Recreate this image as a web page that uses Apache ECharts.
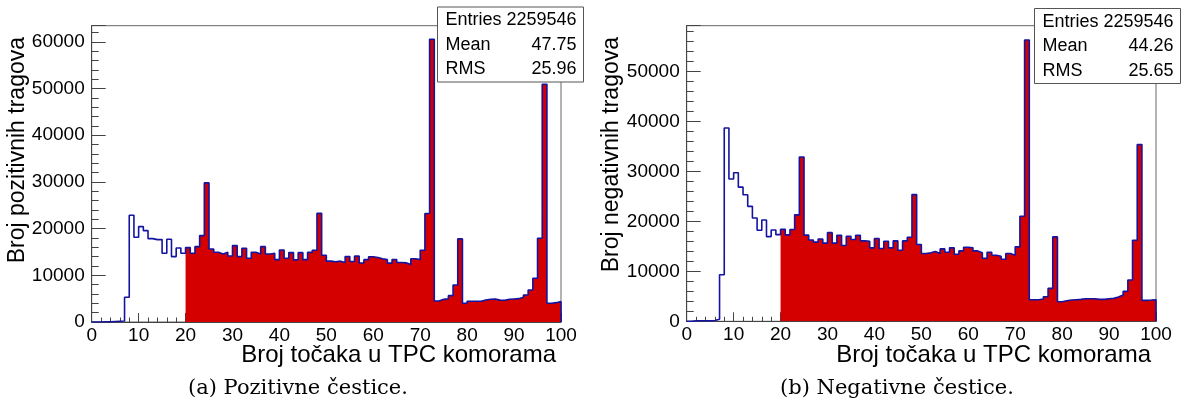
<!DOCTYPE html>
<html>
<head>
<meta charset="utf-8">
<script src="https://cdn.jsdelivr.net/npm/echarts@6/dist/echarts.min.js"></script>
<style>
html, body { margin: 0; padding: 0; background: #fff; }
#chart { width: 1184px; height: 407px; }
</style>
</head>
<body>
<div id="chart"></div>
<script>
// broj tragova po binu (bin i = [i, i+1)), 100 binova
var posCounts = [
	0, 0, 50, 50, 100, 150, 200, 5290, 22860, 18140,
	20430, 19570, 17860, 17640, 17640, 14710, 17710, 14000, 15860, 14710,
	15930, 14710, 16140, 18500, 29790, 15640, 14930, 14570, 14930, 14140,
	16360, 14000, 15790, 13640, 14930, 14570, 16140, 14570, 14710, 13360,
	15430, 13640, 14860, 13300, 14850, 13350, 14900, 15350, 23270, 14280,
	13030, 12900, 13030, 12740, 14000, 12960, 14100, 12640, 13350, 13960,
	13800, 13530, 13350, 12600, 13390, 12750, 12670, 12310, 13560, 13350,
	15350, 23240, 60550, 4500, 4850, 4960, 5640, 7930, 17790, 4000,
	4430, 4430, 4430, 4710, 4860, 4930, 4680, 4640, 4860, 4930,
	5000, 5290, 5790, 6860, 9360, 17930, 50900, 4000, 4140, 4360
];
var negCounts = [
	0, 100, 100, 100, 100, 150, 400, 9300, 38690, 28480,
	29720, 26850, 25330, 23000, 20670, 18230, 20270, 16950, 18270, 17340,
	18400, 17300, 18370, 21300, 32870, 17240, 16270, 15840, 16470, 15640,
	17740, 15640, 17200, 15160, 17030, 16370, 17230, 16090, 16030, 14700,
	16560, 14570, 16030, 14700, 16090, 14230, 16090, 16830, 25350, 15370,
	13570, 13700, 13970, 13570, 14490, 13830, 14700, 13430, 14090, 14830,
	14700, 14090, 13700, 12630, 13830, 13230, 13030, 12430, 13570, 13230,
	14900, 21020, 56290, 4320, 4320, 4450, 4920, 6580, 16890, 3920,
	4120, 4250, 4320, 4390, 4520, 4520, 4520, 4390, 4390, 4520,
	4590, 4860, 5250, 5990, 8250, 16230, 35390, 4190, 4250, 4320
];
var fillFrom = 20; // crveno ispunjeno od 20 tocaka nadalje
var posYMax = 63450;
var negYMax = 59150;

var statNames = ['Entries', 'Mean', 'RMS'];
var posStats = ['2259546', '47.75', '25.96'];
var negStats = ['2259546', '44.26', '25.65'];

var xTitle = 'Broj točaka u TPC komorama';
var posYTitle = 'Broj pozitivnih tragova';
var negYTitle = 'Broj negativnih tragova';
var posCaption = '(a) Pozitivne čestice.';
var negCaption = '(b) Negativne čestice.';

var RED = '#d40000';
var BLUE = '#1414a0';
var AXIS = '#444';
var SANS = '"Liberation Sans", Arial, sans-serif';

function stepData(counts, from, closeToZero) { // tocke za step:'end' liniju
	var d = [];
	for (var i = from; i < counts.length; i++) {
		d.push([i, counts[i]]);
	}
	d.push([counts.length, counts[counts.length - 1]]);
	if (closeToZero) {
		d.push([counts.length, 0]);
	}
	return d;
}

function makeXAxis(gridIndex) {
	return {
		type: 'value',
		gridIndex: gridIndex,
		position: 'bottom',
		min: 0,
		max: 100,
		interval: 10,
		axisLine: { lineStyle: { color: AXIS, width: 1 } },
		axisTick: { inside: true, length: 9, lineStyle: { color: AXIS } },
		minorTick: { show: true, splitNumber: 5, length: 4.5, lineStyle: { color: AXIS } },
		axisLabel: { color: '#000', fontSize: 19, fontFamily: SANS, margin: 4 },
		splitLine: { show: false },
		minorSplitLine: { show: false }
	};
}

function makeYAxes(gridIndex, yMax) {
	return [{
		type: 'value',
		gridIndex: gridIndex,
		position: 'left',
		min: 0,
		max: yMax,
		interval: 10000,
		axisLine: { show: true, lineStyle: { color: AXIS, width: 1 } },
		axisTick: { show: true, inside: true, length: 14, lineStyle: { color: AXIS } },
		axisLabel: {
			color: '#000', fontSize: 19, fontFamily: SANS, margin: 7,
			formatter: function(v) {
				return v % 10000 === 0 ? String(v) : '';
			}
		},
		splitLine: { show: false }
	}, {
		// samo sitne crtice svakih 2000
		type: 'value',
		gridIndex: gridIndex,
		position: 'left',
		offset: 0,
		min: 0,
		max: yMax,
		interval: 2000,
		axisLine: { show: false },
		axisTick: { show: true, inside: true, length: 7, lineStyle: { color: AXIS } },
		axisLabel: { show: false },
		splitLine: { show: false }
	}];
}

function makeSeries(counts, xIdx, yIdx) {
	return [{
		type: 'line',
		xAxisIndex: xIdx,
		yAxisIndex: yIdx,
		step: 'end',
		data: stepData(counts, fillFrom, false),
		symbol: 'none',
		silent: true,
		lineStyle: { width: 0, color: RED },
		areaStyle: { color: RED, opacity: 1 },
		z: 2
	}, {
		type: 'line',
		xAxisIndex: xIdx,
		yAxisIndex: yIdx,
		step: 'end',
		data: stepData(counts, 0, true),
		symbol: 'none',
		silent: true,
		lineStyle: { width: 1.6, color: BLUE },
		z: 3
	}];
}

function statsBox(left, top, values) {
	var children = [{
		type: 'rect',
		shape: { x: 0, y: 0, width: 146, height: 75 },
		style: { fill: '#fff', stroke: '#555', lineWidth: 1 }
	}];
	for (var i = 0; i < statNames.length; i++) {
		children.push({
			type: 'text',
			x: 8, y: 13.5 + i * 24.5,
			style: { text: statNames[i], font: '18px ' + SANS, fill: '#000', align: 'left', verticalAlign: 'middle' }
		});
		children.push({
			type: 'text',
			x: 139, y: 13.5 + i * 24.5,
			style: { text: values[i], font: '18px ' + SANS, fill: '#000', align: 'right', verticalAlign: 'middle' }
		});
	}
	return { type: 'group', x: left, y: top, z: 100, children: children };
}

var myChart = echarts.init(document.getElementById('chart'), null, { renderer: 'canvas' });

var yAxesPos = makeYAxes(0, posYMax);
var yAxesNeg = makeYAxes(1, negYMax);

var option = {
	animation: false,
	backgroundColor: '#fff',
	grid: [
		{ left: 91.7, top: 25.7, width: 469.3, height: 296.3, show: true, borderColor: '#666', borderWidth: 1, backgroundColor: 'transparent' },
		{ left: 686.7, top: 25.7, width: 469.3, height: 295.6, show: true, borderColor: '#666', borderWidth: 1, backgroundColor: 'transparent' }
	],
	xAxis: [makeXAxis(0), makeXAxis(1)],
	yAxis: [yAxesPos[0], yAxesPos[1], yAxesNeg[0], yAxesNeg[1]],
	series: makeSeries(posCounts, 0, 0).concat(makeSeries(negCounts, 1, 2)),
	graphic: [
		statsBox(437.5, 7, posStats),
		statsBox(1034.5, 8.5, negStats),
		{
			type: 'text', x: 556, y: 355, z: 50,
			style: { text: xTitle, font: '24px ' + SANS, fill: '#000', align: 'right', verticalAlign: 'middle' }
		},
		{
			type: 'text', x: 1151, y: 355, z: 50,
			style: { text: xTitle, font: '24px ' + SANS, fill: '#000', align: 'right', verticalAlign: 'middle' }
		},
		{
			type: 'text', x: 18, y: 37, rotation: Math.PI / 2, z: 50,
			style: { text: posYTitle, font: '23px ' + SANS, fill: '#000', align: 'right', verticalAlign: 'middle' }
		},
		{
			type: 'text', x: 612, y: 37, rotation: Math.PI / 2, z: 50,
			style: { text: negYTitle, font: '23px ' + SANS, fill: '#000', align: 'right', verticalAlign: 'middle' }
		},
		{
			type: 'text', x: 298, y: 389, z: 50,
			style: { text: posCaption, font: '21px "DejaVu Serif", serif', fill: '#000', align: 'center', verticalAlign: 'middle' }
		},
		{
			type: 'text', x: 897, y: 389, z: 50,
			style: { text: negCaption, font: '21px "DejaVu Serif", serif', fill: '#000', align: 'center', verticalAlign: 'middle' }
		}
	]
};
myChart.setOption(option);
</script>
</body>
</html>
